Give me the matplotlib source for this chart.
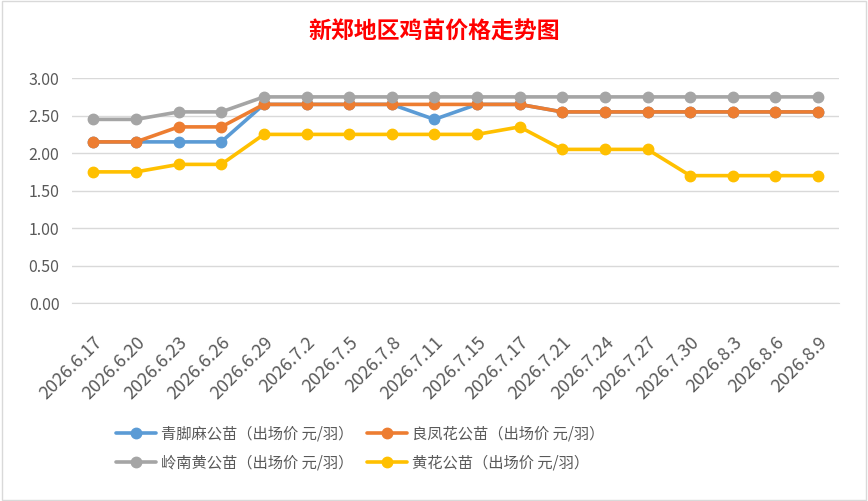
import matplotlib
matplotlib.use("Agg")
import matplotlib.pyplot as plt

plt.rcParams['font.family'] = ['Noto Sans CJK SC', 'DejaVu Sans']

dates = ['2026.6.17', '2026.6.20', '2026.6.23', '2026.6.26', '2026.6.29', '2026.7.2',
         '2026.7.5', '2026.7.8', '2026.7.11', '2026.7.15', '2026.7.17', '2026.7.21',
         '2026.7.24', '2026.7.27', '2026.7.30', '2026.8.3', '2026.8.6', '2026.8.9']

qingjiaoma = [2.15, 2.15, 2.15, 2.15, 2.65, 2.65, 2.65, 2.65, 2.45, 2.65, 2.65, 2.55,
              2.55, 2.55, 2.55, 2.55, 2.55, 2.55]
liangfenghua = [2.15, 2.15, 2.35, 2.35, 2.65, 2.65, 2.65, 2.65, 2.65, 2.65, 2.65, 2.55,
                2.55, 2.55, 2.55, 2.55, 2.55, 2.55]
lingnanhuang = [2.45, 2.45, 2.55, 2.55, 2.75, 2.75, 2.75, 2.75, 2.75, 2.75, 2.75, 2.75,
                2.75, 2.75, 2.75, 2.75, 2.75, 2.75]
huanghua = [1.75, 1.75, 1.85, 1.85, 2.25, 2.25, 2.25, 2.25, 2.25, 2.25, 2.35, 2.05,
            2.05, 2.05, 1.70, 1.70, 1.70, 1.70]

series = [
    ('青脚麻公苗（出场价 元/羽）', qingjiaoma, '#5B9BD5'),
    ('良凤花公苗（出场价 元/羽）', liangfenghua, '#ED7D31'),
    ('岭南黄公苗（出场价 元/羽）', lingnanhuang, '#A5A5A5'),
    ('黄花公苗（出场价 元/羽）', huanghua, '#FFC000'),
]

fig = plt.figure(figsize=(8.68, 5.01), dpi=100)
fig.patches.append(plt.Rectangle((0.002, 0.002), 0.996, 0.996, transform=fig.transFigure,
                                 fill=False, edgecolor='#D9D9D9', linewidth=1))
ax = fig.add_axes([0.0830, 0.395, 0.884, 0.449])

x = list(range(len(dates)))
lines = []
for name, vals, color in series:
    ln, = ax.plot(x, vals, color=color, linewidth=2.6, marker='o', markersize=7.5,
                  label=name, solid_capstyle='round')
    lines.append(ln)

ax.set_xlim(-0.5, len(dates) - 0.5)
ax.set_ylim(0, 3.0)
yt = [0, 0.5, 1.0, 1.5, 2.0, 2.5, 3.0]
ax.set_yticks(yt)
ax.set_yticklabels([f'{v:.2f}' for v in yt])
ax.set_xticks(x)
ax.set_xticklabels(dates, rotation=45, ha='right', va='top', rotation_mode='anchor')
ax.grid(axis='y', color='#D9D9D9', linewidth=1)
ax.set_axisbelow(True)
for s in ['top', 'right', 'left']:
    ax.spines[s].set_visible(False)
ax.spines['bottom'].set_color('#D9D9D9')
ax.tick_params(axis='both', length=0, colors='#595959')
ax.tick_params(axis='y', pad=9, labelsize=11.5)
ax.tick_params(axis='x', pad=22, labelsize=13)

fig.text(0.5, 0.935, '新郑地区鸡苗价格走势图', ha='center', va='center',
         fontsize=16.5, fontweight='bold', color='#FF0000')

# row-wise order like the reference: blue, orange / gray, yellow
order = [0, 2, 1, 3]
fig.legend([lines[i] for i in order], [series[i][0] for i in order],
           loc='center left', bbox_to_anchor=(0.125, 0.105), ncol=2, frameon=False,
           fontsize=11, labelcolor='#595959', handlelength=2.6, columnspacing=0.9,
           handletextpad=0.35, labelspacing=0.75, borderpad=0)

fig.savefig('out.png', dpi=100)
